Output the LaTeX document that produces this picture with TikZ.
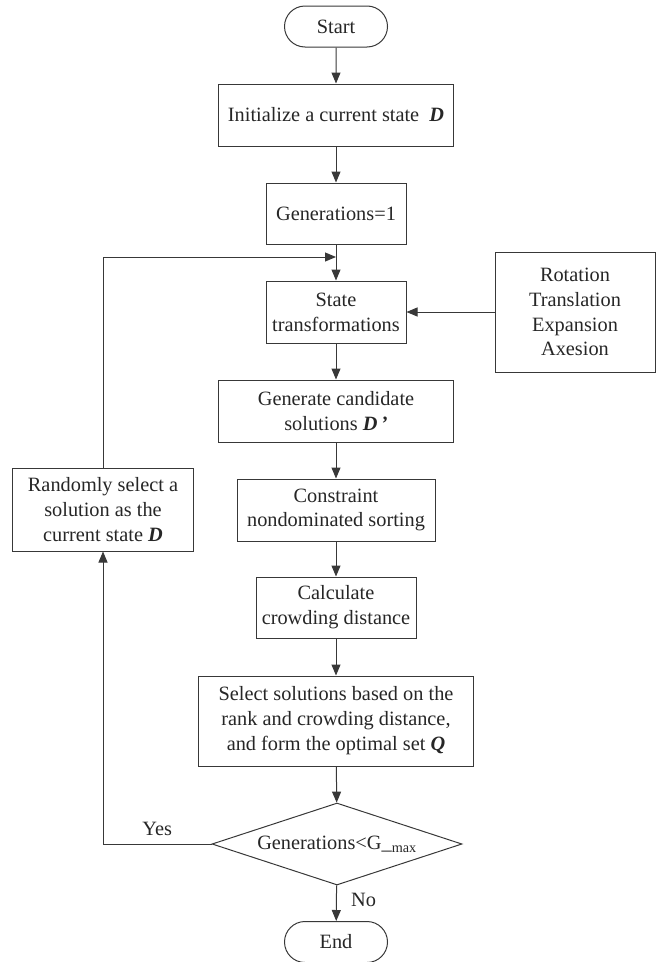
\documentclass[tikz,border=0pt]{standalone}
\usepackage{fontspec}
\setmainfont{Liberation Serif}
\usetikzlibrary{arrows.meta,shapes.geometric,shapes.misc}
\definecolor{linegray}{HTML}{383838}
\newcommand{\bi}[1]{\textbf{\textit{#1}}}
\begin{document}
\begin{tikzpicture}[x=1bp,y=1bp,
  font=\fontsize{20.4}{25}\selectfont,
  every node/.style={text=black!85},
  box/.style={draw=linegray, line width=1bp, rectangle, align=center, inner sep=0pt},
  term/.style={draw=linegray, line width=1bp, rounded rectangle, minimum width=103bp, minimum height=41bp, inner sep=0pt},
  decision/.style={draw=linegray, line width=1bp, diamond, aspect=3.05, minimum width=250bp, minimum height=82bp, inner sep=0pt},
  flow/.style={draw=linegray, line width=1bp, -{Triangle[length=11bp,width=9bp]}}]
\useasboundingbox (0,0) rectangle (662,-962);
\node[term] (start) at (336,-26.5) {Start};
\node[box, minimum width=235bp, minimum height=62bp] (init) at (336,-115) {Initialize a current state\ \ \bi{D}};
\node[box, minimum width=140bp, minimum height=61bp] (gen) at (336,-213.5) {Generations=1};
\node[box, minimum width=140bp, minimum height=62bp] (trans) at (336,-312) {State\\transformations};
\node[box, minimum width=160bp, minimum height=120bp] (ops) at (575,-312) {Rotation\\Translation\\Expansion\\Axesion};
\node[box, minimum width=235bp, minimum height=62bp] (cand) at (336,-411) {Generate candidate\\solutions \bi{D\,\char"0027}};
\node[box, minimum width=198bp, minimum height=62bp] (sort) at (336,-510) {Constraint\\nondominated sorting};
\node[box, minimum width=160bp, minimum height=61bp] (crowd) at (336,-607.5) {Calculate\\crowding distance};
\node[box, minimum width=275bp, minimum height=90bp] (sel) at (336,-721) {Select solutions based on the\\rank and crowding distance,\\and form the optimal set \bi{Q}};
\node[decision] (cond) at (337,-844) {Generations<G\_\textsubscript{max}};
\node[term] (end) at (336,-942) {End};
\node[box, minimum width=180bp, minimum height=83bp] (rand) at (103,-509.5) {Randomly select a\\solution as the\\current state \bi{D}};
\coordinate (join) at (336,-257);
\draw[flow] (start) -- (init);
\draw[flow] (init) -- (gen);
\draw[draw=linegray, line width=1bp] (gen) -- (join);
\draw[flow] (join) -- (trans);
\draw[flow] (ops) -- (trans);
\draw[flow] (trans) -- (cand);
\draw[flow] (cand) -- (sort);
\draw[flow] (sort) -- (crowd);
\draw[flow] (crowd) -- (sel);
\draw[flow] (sel) -- (cond);
\draw[flow] (cond) -- node[right, xshift=11bp, yshift=3bp] (no) {No} (end);
\draw[flow] (cond.west) -| node[pos=0.25, above, yshift=4bp] (yes) {Yes} (rand);
\draw[flow] (rand.north) |- (join);
\end{tikzpicture}
\end{document}
